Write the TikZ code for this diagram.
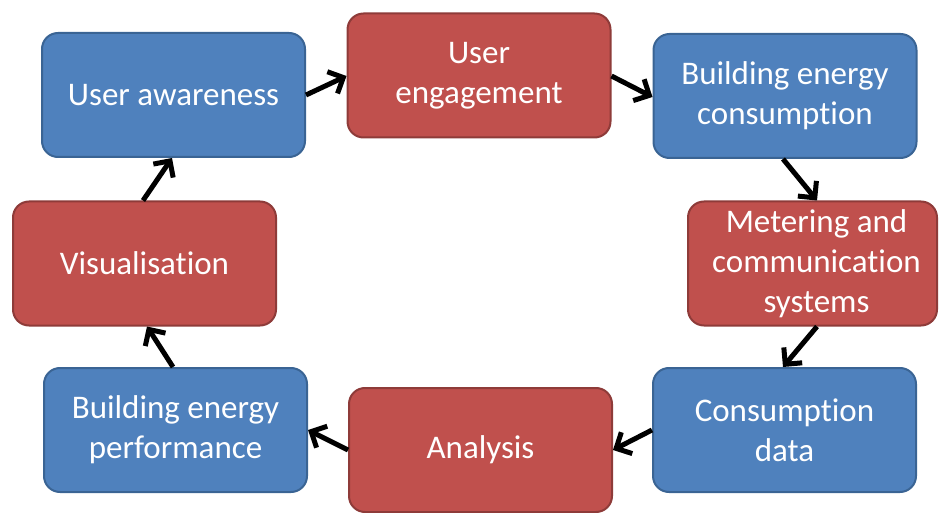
\documentclass[tikz,border=0pt]{standalone}
\usepackage{fontspec}
\setmainfont{Carlito}[Ligatures={NoCommon,NoContextual}]
\usetikzlibrary{arrows.meta}
\definecolor{bluefill}{HTML}{4F81BD}
\definecolor{blueline}{HTML}{3A6494}
\definecolor{redfill}{HTML}{C0504D}
\definecolor{redline}{HTML}{8E3B39}
\tikzset{
  stagebox/.style={rectangle, rounded corners=16pt, line width=2pt,
    minimum width=263pt, minimum height=124pt, inner sep=0pt,
    align=center, text=white, font=\fontsize{33}{40}\selectfont},
  bluebox/.style={stagebox, fill=bluefill, draw=blueline},
  redbox/.style={stagebox, fill=redfill, draw=redline},
  flow/.style={line width=5pt, draw=black,
    -{Straight Barb[length=12pt, width=24pt, line width=5pt]}},
}
\begin{document}
\begin{tikzpicture}[x=1pt, y=-1pt]
  \useasboundingbox (0,0) rectangle (940,513);

  \node[bluebox] (aware)   at (173.5, 95)   {User awareness};
  \node[redbox]  (engage)  at (479, 75.5)   {User\\engagement};
  \node[bluebox] (cons)    at (785, 96)     {Building energy\\consumption};
  \node[redbox, minimum width=249pt] (meter) at (812.5, 263.5)
        {\hspace*{8pt}Metering and\\\hspace*{8pt}communication\\\hspace*{8pt}systems};
  \node[bluebox] (data)    at (784.5, 430)  {Consumption\\data};
  \node[redbox]  (analys)  at (480.5, 450)  {Analysis};
  \node[bluebox] (perf)    at (175.5, 430)  {Building energy\\performance};
  \node[redbox]  (visual)  at (144.5, 263.5){Visualisation};

  \draw[flow] (aware.east |- 0,95)    -- (engage.west |- 0,76);
  \draw[flow] (engage.east |- 0,76)   -- (cons.west |- 0,97);
  \draw[flow] (cons.south -| 783,0)   -- (meter.north -| 817,0);
  \draw[flow] (meter.south -| 817,0)  -- (data.north -| 783,0);
  \draw[flow] (data.west |- 0,430)    -- (analys.east |- 0,450);
  \draw[flow] (analys.west |- 0,450)  -- (perf.east |- 0,430);
  \draw[flow] (perf.north -| 173,0)   -- (visual.south -| 147,0);
  \draw[flow] (visual.north -| 143,0) -- (aware.south -| 172,0);
\end{tikzpicture}
\end{document}
